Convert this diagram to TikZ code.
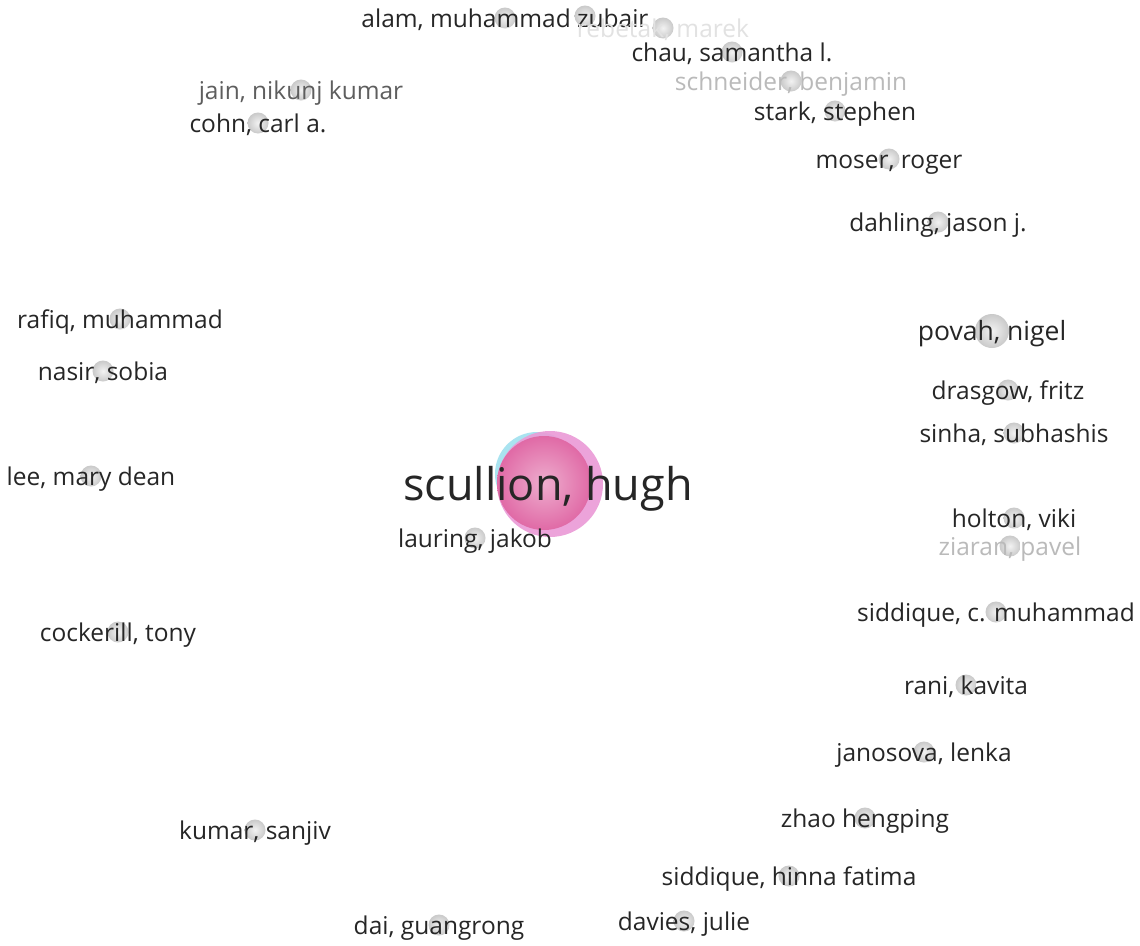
\documentclass[tikz,border=0pt]{standalone}
\usepackage{fontspec}
\setmainfont{Open Sans}
\usepackage{tikz}
\usetikzlibrary{positioning}
\definecolor{labeltext}{HTML}{262626}
\definecolor{midlabel}{HTML}{5E5E5E}
\definecolor{palelabel}{HTML}{BABABA}
\definecolor{faintlabel}{HTML}{E2E2E2}
\definecolor{clustercyan}{HTML}{A9E3F0}
\definecolor{clusterpink}{HTML}{EB9AD6}
\definecolor{centrepink}{HTML}{E06AA6}

\begin{document}
\begin{tikzpicture}[
			x = 1pt, y = -1pt,
			authordot/.style = {circle, inner sep=0pt, minimum size=21pt, inner color=gray!10, outer color=gray!42},
			authorname/.style = {anchor=mid, yshift=-7pt, inner sep=0pt, text=labeltext, font=\fontsize{24.5}{26}\selectfont},
			]
			\useasboundingbox[fill=white] (0,0) rectangle (1140,945);

			% central cluster
			\node[circle, fill=clustercyan, minimum size=84pt, inner sep=0pt] (hughcyan) at (537,474) {};
			\node[circle, fill=clusterpink, fill opacity=0.9, minimum size=106pt, inner sep=0pt] (hughring) at (550,484) {};
			\node[circle, inner color=centrepink!55!white, outer color=centrepink, minimum size=94pt, inner sep=0pt] (hugh) at (544,483) {};

			% authors
			\node[authordot] (alam) at (505,18) {};
			\node[authordot] (zubair) at (585,16) {};
			\node[authordot] (rebetak) at (663,28) {};
			\node[authordot] (chau) at (732,52) {};
			\node[authordot] (schneider) at (791,81) {};
			\node[authordot] (stark) at (835,111) {};
			\node[authordot] (moser) at (889,159) {};
			\node[authordot] (dahling) at (938,222) {};
			\node[authordot] (jain) at (301,90) {};
			\node[authordot] (cohn) at (258,123) {};
			\node[authordot] (rafiq) at (120,319) {};
			\node[authordot] (nasir) at (103,371) {};
			\node[authordot] (lee) at (91,476) {};
			\node[authordot, minimum size=34pt] (povah) at (992,331) {};
			\node[authordot] (drasgow) at (1008,390) {};
			\node[authordot] (sinha) at (1014,433) {};
			\node[authordot] (holton) at (1014,518) {};
			\node[authordot] (ziaran) at (1010,546) {};
			\node[authordot] (siddiquec) at (996,612) {};
			\node[authordot] (rani) at (966,685) {};
			\node[authordot] (janosova) at (924,752) {};
			\node[authordot] (zhao) at (865,818) {};
			\node[authordot] (siddiqueh) at (789,876) {};
			\node[authordot] (davies) at (684,921) {};
			\node[authordot] (dai) at (439,925) {};
			\node[authordot] (kumar) at (255,830) {};
			\node[authordot] (cockerill) at (118,632) {};
			\node[authordot] (lauring) at (475,538) {};

			% labels
			\node[authorname, yshift=-6pt, font=\fontsize{45}{48}\selectfont] (hugh-l) at (548,485) {scullion, hugh};
			\node[authorname] (alam-l) at (alam) {alam, muhammad zubair};
			\node[authorname, text=faintlabel] (rebetak-l) at (rebetak) {rebetak, marek};
			\node[authorname] (chau-l) at (chau) {chau, samantha l.};
			\node[authorname, text=palelabel] (schneider-l) at (schneider) {schneider, benjamin};
			\node[authorname] (stark-l) at (stark) {stark, stephen};
			\node[authorname] (moser-l) at (moser) {moser, roger};
			\node[authorname] (dahling-l) at (dahling) {dahling, jason j.};
			\node[authorname, text=midlabel] (jain-l) at (jain) {jain, nikunj kumar};
			\node[authorname] (cohn-l) at (cohn) {cohn, carl a.};
			\node[authorname] (rafiq-l) at (rafiq) {rafiq, muhammad};
			\node[authorname] (nasir-l) at (nasir) {nasir, sobia};
			\node[authorname] (lee-l) at (lee) {lee, mary dean};
			\node[authorname, font=\fontsize{26.5}{28}\selectfont] (povah-l) at (povah) {povah, nigel};
			\node[authorname] (drasgow-l) at (drasgow) {drasgow, fritz};
			\node[authorname] (sinha-l) at (sinha) {sinha, subhashis};
			\node[authorname] (holton-l) at (holton) {holton, viki};
			\node[authorname, text=palelabel] (ziaran-l) at (ziaran) {ziaran, pavel};
			\node[authorname] (siddiquec-l) at (siddiquec) {siddique, c. muhammad};
			\node[authorname] (rani-l) at (rani) {rani, kavita};
			\node[authorname] (janosova-l) at (janosova) {janosova, lenka};
			\node[authorname] (zhao-l) at (zhao) {zhao hengping};
			\node[authorname] (siddiqueh-l) at (siddiqueh) {siddique, hinna fatima};
			\node[authorname] (davies-l) at (davies) {davies, julie};
			\node[authorname] (dai-l) at (dai) {dai, guangrong};
			\node[authorname] (kumar-l) at (kumar) {kumar, sanjiv};
			\node[authorname] (cockerill-l) at (cockerill) {cockerill, tony};
			\node[authorname] (lauring-l) at (lauring) {lauring, jakob};

		\end{tikzpicture}
\end{document}
